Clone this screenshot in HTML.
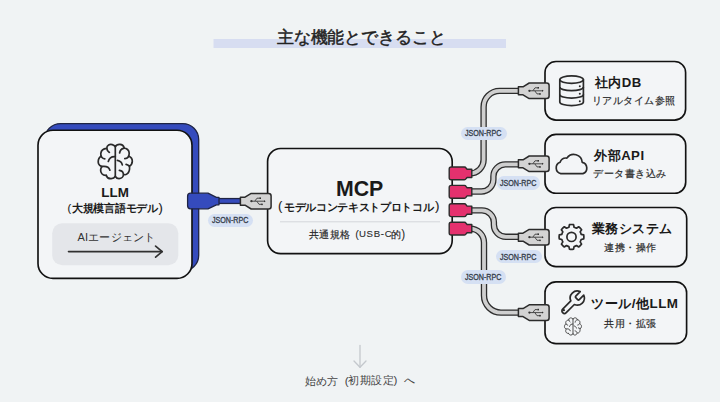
<!DOCTYPE html>
<html lang="ja">
<head>
<meta charset="utf-8">
<style>
html,body{margin:0;padding:0;}
body{width:720px;height:402px;overflow:hidden;background:#f0f3f4;position:relative;font-family:"Liberation Sans",sans-serif;color:#222;}
svg{position:absolute;left:0;top:0;}
.t{position:absolute;white-space:nowrap;line-height:1;}
.b{font-weight:bold;}
.pill{position:absolute;background:#d5e0f3;border-radius:7px;}
.pt{position:absolute;white-space:nowrap;line-height:1;font-size:8.2px;color:#343c4a;font-weight:normal;-webkit-text-stroke:0.3px #343c4a;transform:scaleX(0.87);transform-origin:0 0;}
</style>
</head>
<body>
<svg width="720" height="402" viewBox="0 0 720 402">
  <defs>
    <g id="usb">
      <path d="M0 -4 H4.6 L10.8 -7.8 H28.2 Q30.7 -7.8 30.7 -5.3 V5.3 Q30.7 7.8 28.2 7.8 H10.8 L4.6 4 H0 Z" fill="#d3d3d3" stroke="#2b2b2b" stroke-width="1.5" stroke-linejoin="round"/>
      <g stroke="#333" stroke-width="0.85" fill="none">
        <path d="M11 0 H24.4"/>
        <path d="M14.4 0 L16.6 -3 H19.2"/>
        <path d="M16.4 0 L18.6 3.1 H21.4"/>
      </g>
      <circle cx="11" cy="0" r="1.15" fill="#333"/>
      <rect x="19" y="-3.8" width="1.6" height="1.6" fill="#333"/>
      <circle cx="21.6" cy="3.1" r="0.9" fill="#333"/>
      <path d="M23.6 -1 L25.3 0 L23.6 1 Z" fill="#333"/>
    </g>
    <g id="pink">
      <path d="M2 -6.4 H15.2 Q16.3 -6.4 16.8 -5.4 L17.9 -4.1 H22.6 V4.1 H17.9 L16.8 5.4 Q16.3 6.4 15.2 6.4 H2 Q0 6.4 0 4.4 V-4.4 Q0 -6.4 2 -6.4 Z" fill="#e4316e" stroke="#2b2b2b" stroke-width="1.4" stroke-linejoin="round"/>
    </g>
    <g id="brain" fill="none" stroke-linecap="round" stroke-linejoin="round">
      <path d="M115.3 145.8 V176.4"/>
      <path d="M115.3 146.6 C114 144.6 110.8 143.8 108.6 144.9 C106.2 146.2 106 150.4 109.4 152.4"/>
      <path d="M106.6 148.4 C103.6 148.6 101.2 150.6 100.8 153.4 C100.4 156.6 102.4 158.6 104.8 158.9"/>
      <path d="M101.2 156.2 C99.2 157.2 98.2 159.6 98.2 162 C98.2 165 100.6 166.6 103 166.4 C105.6 166.2 108.8 166.6 109.9 170.2"/>
      <path d="M101.9 166.8 C100.4 168 100 171.6 101.9 173.8 C103 175 104.8 175.6 106.3 175.4"/>
      <path d="M106.3 175.4 C107 177.6 109.2 178.8 111.2 178.7 C113.2 178.6 114.6 177.6 115.3 176.4"/>
      <path d="M115.3 156.6 C112.4 156.4 109.2 157.6 108.3 161.5"/>
      <path d="M115.3 146.6 C116.2 144.8 118.2 144.2 120 144.3 C122 144.4 123.6 145.8 124.2 147.7"/>
      <path d="M119.6 153 C120 150.4 121.6 148.6 123.6 148.3 C126.6 148 129.2 150.2 129.2 153.2 C129.2 156.4 127 158.4 124.8 158.7"/>
      <path d="M128.9 156.2 C131 157 132.4 159 132.3 161.4 C132.2 163.8 131 165.4 129.4 166.2 C128.4 165.2 127.2 164.5 126.1 164.3"/>
      <path d="M129.4 166.2 C129.8 168.4 129.4 171.6 127.8 173.3 C126.8 174.5 125.6 174.9 124.6 174.7"/>
      <path d="M119.4 170.3 C121.6 170.6 123.4 172.4 123.4 174.6 C123.4 176.8 121.4 178.7 119 178.7 C117.4 178.7 116 177.8 115.3 176.4"/>
      <path d="M117.4 160.4 C119.6 160.8 121.8 162.4 122.3 164.8"/>
    </g>
  </defs>

  <!-- title bar -->
  <rect x="213.5" y="39" width="292.5" height="9" fill="#d7ddf1"/>

  <!-- LLM box -->
  <rect x="44.6" y="123.6" width="154.1" height="147.6" rx="16" fill="#354bbd" stroke="#1f2444" stroke-width="1.3"/>
  <rect x="38" y="130.2" width="154" height="148.2" rx="15" fill="#f3f5f7" stroke="#121212" stroke-width="1.65"/>
  <rect x="52.2" y="223.2" width="126.1" height="42" rx="10" fill="#e4e6ea"/>
  <g stroke="#303030" stroke-width="1.65" fill="none" stroke-linecap="round" stroke-linejoin="round">
    <path d="M68.5 251.6 H162.2"/>
    <path d="M155.6 246.1 L162.2 251.6 L155.6 257.1"/>
  </g>
  <use href="#brain" stroke="#2a2a2a" stroke-width="1.7"/>

  <!-- blue cable LLM -> MCP -->
  <path d="M214 201 H242" stroke="#1f2444" stroke-width="6.2" fill="none"/>
  <path d="M214 201 H242" stroke="#354bbd" stroke-width="3.6" fill="none"/>
  <path d="M190.6 193.2 H208 L216.4 197.4 H219 V204.8 H216.4 L208 208.8 H190.6 Q187.6 208.8 187.6 205.8 V196.2 Q187.6 193.2 190.6 193.2 Z" fill="#354bbd" stroke="#1f2444" stroke-width="1.3" stroke-linejoin="round"/>

  <!-- MCP box -->
  <rect x="267.6" y="148.5" width="184.6" height="105.1" rx="13" fill="#f3f5f7" stroke="#121212" stroke-width="1.65"/>
  <path d="M280 221.8 H440" stroke="#d3d6db" stroke-width="1"/>
  <use href="#usb" transform="translate(240.4 201.2)"/>

  <!-- right cables (grey) -->
  <g fill="none" stroke-linecap="butt" stroke-linejoin="round">
    <g stroke="#2d2d2d" stroke-width="6.4">
      <path id="c1" d="M470 173.4 A13.6 13.6 0 0 0 483.6 159.8 V106.9 A16 16 0 0 1 499.6 90.9 H520"/>
      <path id="c2" d="M470 191.5 H481.4 A12 12 0 0 0 493.4 179.5 V176.4 A12 12 0 0 1 505.4 164.4 H520"/>
      <path id="c3" d="M470 210.4 H481.9 A12 12 0 0 1 493.9 222.4 V224.8 A12 12 0 0 0 505.9 236.8 H520"/>
      <path id="c4" d="M470 228.6 A14 14 0 0 1 484 242.6 V295.6 A17 17 0 0 0 501 312.6 H520"/>
    </g>
    <g stroke="#cfcfcf" stroke-width="3.8">
      <use href="#c1"/><use href="#c2"/><use href="#c3"/><use href="#c4"/>
    </g>
  </g>

  <!-- pink connectors -->
  <use href="#pink" transform="translate(449.2 173.4)"/>
  <use href="#pink" transform="translate(449.2 191.8)"/>
  <use href="#pink" transform="translate(449.2 210.2)"/>
  <use href="#pink" transform="translate(449.2 228.6)"/>

  <!-- right boxes -->
  <g fill="#f3f5f7" stroke="#121212" stroke-width="1.65">
    <rect x="545" y="61.5" width="140.6" height="58.6" rx="11"/>
    <rect x="545" y="134.4" width="140.7" height="58.9" rx="11"/>
    <rect x="545" y="207.5" width="141.7" height="59.1" rx="11"/>
    <rect x="545" y="281.8" width="141.6" height="61.9" rx="11"/>
  </g>
  <use href="#usb" transform="translate(518.4 90.8)"/>
  <use href="#usb" transform="translate(518.4 163.8)"/>
  <use href="#usb" transform="translate(518.4 237.2)"/>
  <use href="#usb" transform="translate(518.4 312.6)"/>

  <!-- DB icon -->
  <g fill="none" stroke="#2a2a2a" stroke-width="1.7">
    <ellipse cx="571.6" cy="79.6" rx="11.8" ry="3.7"/>
    <path d="M559.8 79.6 V101.9 A11.8 3.7 0 0 0 583.4 101.9 V79.6"/>
    <path d="M559.8 87 A11.8 3.7 0 0 0 583.4 87"/>
    <path d="M559.8 94.4 A11.8 3.7 0 0 0 583.4 94.4"/>
  </g>
  <g fill="#2a2a2a">
    <circle cx="579.8" cy="86.2" r="1"/>
    <circle cx="579.8" cy="93.7" r="1"/>
    <circle cx="579.8" cy="101.2" r="1"/>
  </g>

  <!-- cloud icon -->
  <path d="M560.8 173.6 H582.9 A5.9 5.9 0 0 0 582.2 162.3 A8.37 8.37 0 0 0 566.9 158.1 A6.34 6.34 0 0 0 560.1 162.3 A5.9 5.9 0 0 0 560.8 173.6 Z" fill="none" stroke="#2a2a2a" stroke-width="1.7" stroke-linejoin="round"/>

  <!-- gear icon -->
  <g transform="translate(571.5 236.9)" fill="none" stroke="#2a2a2a" stroke-width="1.7" stroke-linejoin="round">
    <path d="M-2.59 -9.66 L-2.05 -12.23 A12.4 12.4 0 0 1 2.05 -12.23 L2.59 -9.66 A10.0 10.0 0 0 1 5.00 -8.66 L7.20 -10.10 A12.4 12.4 0 0 1 10.10 -7.20 L8.66 -5.00 A10.0 10.0 0 0 1 9.66 -2.59 L12.23 -2.05 A12.4 12.4 0 0 1 12.23 2.05 L9.66 2.59 A10.0 10.0 0 0 1 8.66 5.00 L10.10 7.20 A12.4 12.4 0 0 1 7.20 10.10 L5.00 8.66 A10.0 10.0 0 0 1 2.59 9.66 L2.05 12.23 A12.4 12.4 0 0 1 -2.05 12.23 L-2.59 9.66 A10.0 10.0 0 0 1 -5.00 8.66 L-7.20 10.10 A12.4 12.4 0 0 1 -10.10 7.20 L-8.66 5.00 A10.0 10.0 0 0 1 -9.66 2.59 L-12.23 2.05 A12.4 12.4 0 0 1 -12.23 -2.05 L-9.66 -2.59 A10.0 10.0 0 0 1 -8.66 -5.00 L-10.10 -7.20 A12.4 12.4 0 0 1 -7.20 -10.10 L-5.00 -8.66 A10.0 10.0 0 0 1 -2.59 -9.66Z"/>
    <circle r="4.6"/>
  </g>

  <!-- wrench icon -->
  <g transform="translate(558.4 288.6) scale(1.18)" fill="none" stroke="#2a2a2a" stroke-width="1.45" stroke-linejoin="round" stroke-linecap="round">
    <path d="M14.7 6.3a1 1 0 0 0 0 1.4l1.6 1.6a1 1 0 0 0 1.4 0l3.77-3.77a6 6 0 0 1-7.94 7.94l-6.91 6.91a2.12 2.12 0 0 1-3-3l6.91-6.91a6 6 0 0 1 7.94-7.94l-3.76 3.76z"/>
    <circle cx="4.6" cy="18.3" r="0.5" fill="#2a2a2a" stroke-width="0.9"/>
  </g>
  <use href="#brain" transform="translate(515.35 245.7) scale(0.5)" stroke="#444" stroke-width="1.9"/>

  <!-- bottom arrow -->
  <g stroke="#c4c8cd" stroke-width="1.3" fill="none" stroke-linecap="round" stroke-linejoin="round">
    <path d="M360 345.5 V367.3"/>
    <path d="M354 361 L360 367.3 L366 361"/>
  </g>
</svg>

<!-- labels -->
<div class="pill" style="left:207.8px;top:214px;width:45.1px;height:12.5px;"></div>
<div class="pill" style="left:461.2px;top:126.7px;width:45.5px;height:13.3px;"></div>
<div class="pill" style="left:497.1px;top:176.3px;width:43.3px;height:13.3px;"></div>
<div class="pill" style="left:496px;top:250.2px;width:45.8px;height:13.3px;"></div>
<div class="pill" style="left:460.8px;top:270.3px;width:45.2px;height:13.4px;"></div>
<div class="pt" id="p0" style="left:212px;top:216.7px;">JSON-RPC</div>
<div class="pt" id="p1" style="left:465px;top:130.3px;">JSON-RPC</div>
<div class="pt" id="p2" style="left:500.3px;top:179.9px;">JSON-RPC</div>
<div class="pt" id="p3" style="left:500.4px;top:253.9px;">JSON-RPC</div>
<div class="pt" id="p4" style="left:465.4px;top:273.9px;">JSON-RPC</div>

<!-- texts -->
<div class="t" id="title" style="left:276.84px;top:28.55px;font-size:16.50px;letter-spacing:-0.14px;color:#222;-webkit-text-stroke:0.45px #222;">主な機能とできること</div>
<div class="t b" id="llm" style="left:101.19px;top:185.60px;font-size:13.40px;letter-spacing:0.13px;color:#1a1a1a;">LLM</div>
<div class="t" id="llm2a" style="left:67.59px;top:202.84px;font-size:10.95px;color:#1a1a1a;-webkit-text-stroke:0.1px #1a1a1a;">(</div>
<div class="t b" id="llm2" style="left:72.02px;top:202.89px;font-size:11.00px;letter-spacing:-0.28px;color:#1a1a1a;">大規模言語モデル</div>
<div class="t" id="llm2c" style="left:158.61px;top:201.82px;font-size:12.89px;color:#1a1a1a;-webkit-text-stroke:0.1px #1a1a1a;">)</div>
<div class="t" id="agent" style="left:77.47px;top:231.83px;font-size:11.00px;letter-spacing:0.20px;color:#333;">AIエージェント</div>
<div class="t b" id="mcp" style="left:336.05px;top:178.60px;font-size:21.30px;letter-spacing:-0.14px;color:#1a1a1a;">MCP</div>
<div class="t" id="mcp2a" style="left:278.03px;top:199.13px;font-size:13.03px;color:#1a1a1a;-webkit-text-stroke:0.1px #1a1a1a;">(</div>
<div class="t b" id="mcp2" style="left:284.00px;top:201.95px;font-size:11.00px;letter-spacing:-0.33px;color:#1a1a1a;">モデルコンテキストプロトコル</div>
<div class="t" id="mcp2c" style="left:434.95px;top:199.12px;font-size:13.37px;color:#1a1a1a;-webkit-text-stroke:0.1px #1a1a1a;">)</div>
<div class="t" id="mcp3" style="left:309.42px;top:229.90px;font-size:10.30px;letter-spacing:0.08px;color:#2a2a2a;-webkit-text-stroke:0.2px #2a2a2a;">共通規格</div>
<div class="t" id="mcp3a" style="left:355.15px;top:229.24px;font-size:11.02px;color:#2a2a2a;">(</div>
<div class="t" id="mcp3u" style="left:358.91px;top:229.48px;font-size:9.60px;letter-spacing:0.72px;color:#2a2a2a;-webkit-text-stroke:0.1px #2a2a2a;">USB-C</div>
<div class="t" id="mcp3d" style="left:391.18px;top:230.44px;font-size:10.30px;color:#2a2a2a;-webkit-text-stroke:0.2px #2a2a2a;">的</div>
<div class="t" id="mcp3c" style="left:401.22px;top:229.12px;font-size:11.90px;color:#2a2a2a;">)</div>
<div class="t b" id="b1t" style="left:594.86px;top:76.19px;font-size:13.20px;letter-spacing:0.46px;color:#1a1a1a;">社内DB</div>
<div class="t" id="b1s" style="left:591.88px;top:95.99px;font-size:10.00px;letter-spacing:0.50px;color:#2a2a2a;-webkit-text-stroke:0.2px #2a2a2a;">リアルタイム参照</div>
<div class="t b" id="b2t" style="left:594.20px;top:148.75px;font-size:13.20px;letter-spacing:0.47px;color:#1a1a1a;">外部API</div>
<div class="t" id="b2s" style="left:593.10px;top:168.80px;font-size:10.00px;letter-spacing:0.49px;color:#2a2a2a;-webkit-text-stroke:0.2px #2a2a2a;">データ書き込み</div>
<div class="t b" id="b3t" style="left:591.83px;top:221.94px;font-size:13.20px;letter-spacing:0.44px;color:#1a1a1a;">業務システム</div>
<div class="t" id="b3s" style="left:604.44px;top:243.28px;font-size:10.20px;letter-spacing:0.49px;color:#2a2a2a;-webkit-text-stroke:0.2px #2a2a2a;">連携・操作</div>
<div class="t b" id="b4t" style="left:591.22px;top:297.32px;font-size:13.40px;letter-spacing:0.51px;color:#1a1a1a;">ツール/他LLM</div>
<div class="t" id="b4s" style="left:604.32px;top:318.87px;font-size:10.20px;letter-spacing:0.47px;color:#2a2a2a;-webkit-text-stroke:0.2px #2a2a2a;">共用・拡張</div>
<div class="t" id="foot" style="left:305.09px;top:375.80px;font-size:10.90px;letter-spacing:-0.03px;color:#444;">始め方</div>
<div class="t" id="foota" style="left:344.76px;top:374.68px;font-size:11.67px;color:#444;">(</div>
<div class="t" id="footb" style="left:348.44px;top:375.19px;font-size:10.90px;letter-spacing:0.39px;color:#444;">初期設定</div>
<div class="t" id="footc" style="left:393.40px;top:374.87px;font-size:11.52px;color:#444;">)</div>
<div class="t" id="footd" style="left:403.94px;top:375.00px;font-size:10.90px;color:#444;">へ</div>
</body>
</html>
